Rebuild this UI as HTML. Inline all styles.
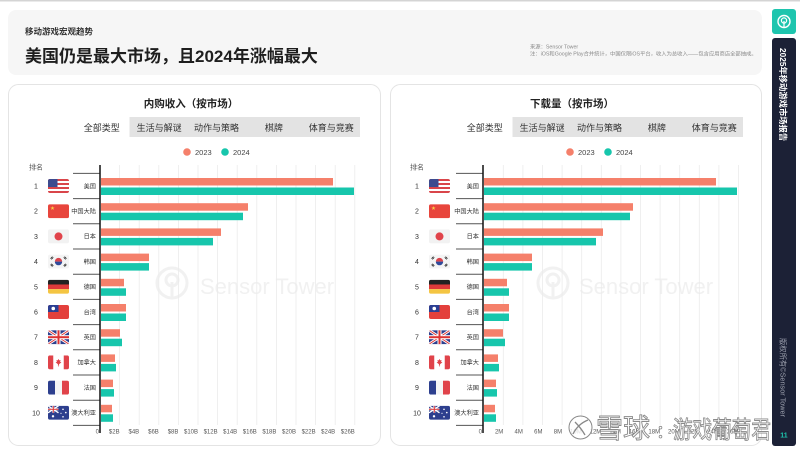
<!DOCTYPE html>
<html><head><meta charset="utf-8">
<style>
html,body{margin:0;padding:0;width:800px;height:454px;overflow:hidden;background:#fff}
svg{display:block}
svg text{font-family:"Liberation Sans","Noto Sans CJK SC",sans-serif}
</style></head>
<body>
<svg width="800" height="454" viewBox="0 0 800 454" xmlns="http://www.w3.org/2000/svg">
<defs>
<clipPath id="fc"><rect width="21" height="14" rx="2"/></clipPath>
<g id="fUS" clip-path="url(#fc)"><rect width="21" height="14" fill="#fff"/><rect y="0" width="21" height="2" fill="#d9454a"/><rect y="4" width="21" height="2" fill="#d9454a"/><rect y="8" width="21" height="2" fill="#d9454a"/><rect y="12" width="21" height="2" fill="#d9454a"/><rect width="9.5" height="8" fill="#3d4b8f"/></g>
<g id="fCN" clip-path="url(#fc)"><rect width="21" height="14" fill="#e8453c"/><polygon points="4.5,1.8 5,3.31 6.59,3.32 5.31,4.26 5.79,5.78 4.5,4.85 3.21,5.78 3.69,4.26 2.41,3.32 4,3.31" fill="#f7d046"/></g>
<g id="fJP" clip-path="url(#fc)"><rect width="21" height="14" fill="#f2f2f2"/><circle cx="10.5" cy="7" r="4" fill="#e0434a"/></g>
<g id="fKR" clip-path="url(#fc)"><rect width="21" height="14" fill="#f4f4f4"/><path d="M6.8,7 a3.7,3.7 0 0 1 7.4,0 z" fill="#d9434b"/><path d="M6.8,7 a3.7,3.7 0 0 0 7.4,0 z" fill="#2f4a9a"/><g stroke="#222" stroke-width="0.8"><line x1="2.5" y1="4" x2="4.5" y2="2"/><line x1="3.3" y1="4.8" x2="5.3" y2="2.8"/><line x1="16.5" y1="2" x2="18.5" y2="4"/><line x1="15.7" y1="2.8" x2="17.7" y2="4.8"/><line x1="2.5" y1="10" x2="4.5" y2="12"/><line x1="3.3" y1="9.2" x2="5.3" y2="11.2"/><line x1="16.5" y1="12" x2="18.5" y2="10"/><line x1="15.7" y1="11.2" x2="17.7" y2="9.2"/></g></g>
<g id="fDE" clip-path="url(#fc)"><rect width="21" height="4.7" fill="#222"/><rect y="4.67" width="21" height="4.7" fill="#dd3a3a"/><rect y="9.33" width="21" height="4.7" fill="#f4c542"/></g>
<g id="fTW" clip-path="url(#fc)"><rect width="21" height="14" fill="#e3403c"/><rect width="10.5" height="7" fill="#2b3f93"/><circle cx="5.25" cy="3.5" r="1.8" fill="#fff"/></g>
<g id="fUK" clip-path="url(#fc)"><rect width="21" height="14" fill="#2d3f8e"/><g stroke="#fff" stroke-width="2.8"><line x1="0" y1="0" x2="21" y2="14"/><line x1="0" y1="14" x2="21" y2="0"/></g><g stroke="#d33" stroke-width="0.9"><line x1="0" y1="0" x2="21" y2="14"/><line x1="0" y1="14" x2="21" y2="0"/></g><rect x="8.5" width="4" height="14" fill="#fff"/><rect y="5" width="21" height="4" fill="#fff"/><rect x="9.5" width="2" height="14" fill="#d33"/><rect y="6" width="21" height="2" fill="#d33"/></g>
<g id="fCA" clip-path="url(#fc)"><rect width="21" height="14" fill="#fff"/><rect width="5.25" height="14" fill="#e0434a"/><rect x="15.75" width="5.25" height="14" fill="#e0434a"/><polygon points="10.5,3.5 11.3,5 12.6,4.6 12.1,6.5 13.4,7 11,8.8 11.2,10 10.5,9.6 9.8,10 10,8.8 7.6,7 8.9,6.5 8.4,4.6 9.7,5" fill="#e0434a"/><rect x="10.2" y="9.5" width="0.6" height="1.6" fill="#e0434a"/></g>
<g id="fFR" clip-path="url(#fc)"><rect width="7" height="14" fill="#2d3f8e"/><rect x="7" width="7" height="14" fill="#f5f5f5"/><rect x="14" width="7" height="14" fill="#e0434a"/></g>
<g id="fAU" clip-path="url(#fc)"><rect width="21" height="14" fill="#2d3f8e"/><g stroke="#fff" stroke-width="1.4"><line x1="0" y1="0" x2="10.5" y2="7"/><line x1="0" y1="7" x2="10.5" y2="0"/></g><rect x="4.3" width="2" height="7" fill="#fff"/><rect y="2.5" width="10.5" height="2" fill="#fff"/><rect x="4.8" width="1" height="7" fill="#d33"/><rect y="3" width="10.5" height="1" fill="#d33"/><g fill="#fff"><circle cx="5" cy="10.5" r="1.2"/><circle cx="15" cy="3.5" r="0.8"/><circle cx="17.8" cy="6.8" r="0.8"/><circle cx="15" cy="11" r="0.8"/><circle cx="13" cy="7.5" r="0.6"/></g></g>
</defs>

<rect x="0" y="0" width="800" height="1.5" fill="#d4d4d4"/>

<rect x="8" y="10" width="754" height="65" rx="8" fill="#f6f6f6"/>
<text x="25" y="34.5" font-size="8.5" font-weight="bold" fill="#333">移动游戏宏观趋势</text>
<text x="25" y="62" font-size="17" font-weight="bold" fill="#1e1e1e">美国仍是最大市场，且2024年涨幅最大</text>
<text x="530" y="48.5" font-size="5.3" fill="#8a8a8a">来源：Sensor Tower</text>
<text x="530" y="55.5" font-size="5.3" fill="#8a8a8a">注：iOS和Google Play合并统计，中国仅限iOS平台，收入为总收入——包含应用商店全部抽成。</text>

<rect x="772" y="9" width="24" height="25" rx="3" fill="#1ec5ae"/>
<circle cx="784" cy="21.5" r="6" fill="none" stroke="#fff" stroke-width="1.4"/>
<circle cx="784" cy="20.5" r="2.6" fill="none" stroke="#fff" stroke-width="1.2"/>
<line x1="784" y1="21" x2="784" y2="27" stroke="#fff" stroke-width="1.2"/>
<rect x="772" y="38" width="24" height="408" rx="3" fill="#1c2136"/>
<text transform="translate(780.2,48) rotate(90)" font-size="8.3" font-weight="bold" fill="#fff">2025年移动游戏市场报告</text>
<text transform="translate(780.7,338) rotate(90)" font-size="7.3" fill="#9ca0ad">版权所有©Sensor Tower</text>
<text x="784" y="437.5" font-size="7" font-weight="bold" fill="#1ec5ae" text-anchor="middle">11</text>

<rect x="8.5" y="84.5" width="372" height="361" rx="10" fill="#fff" stroke="#e4e4e4"/>
<rect x="390.5" y="84.5" width="371" height="361" rx="10" fill="#fff" stroke="#e4e4e4"/>

<!-- LEFT PANEL -->
<text x="191" y="107" font-size="10.5" font-weight="bold" fill="#222" text-anchor="middle">内购收入（按市场）</text>
<rect x="73" y="117" width="287" height="20" fill="#e3e3e3"/>
<rect x="73" y="117" width="56.5" height="20" fill="#fff"/>
<g font-size="9" fill="#333" text-anchor="middle">
<text x="101.7" y="131">全部类型</text><text x="159.1" y="131">生活与解谜</text><text x="216.5" y="131">动作与策略</text><text x="273.9" y="131">棋牌</text><text x="331.3" y="131">体育与竞赛</text>
</g>
<circle cx="187" cy="152" r="3.8" fill="#f5806b"/><text x="195" y="155" font-size="7.5" fill="#444">2023</text>
<circle cx="225" cy="152" r="3.8" fill="#17c6ac"/><text x="233" y="155" font-size="7.5" fill="#444">2024</text>

<circle cx="172" cy="283" r="15" fill="none" stroke="#f1f1f1" stroke-width="3"/>
<circle cx="172" cy="280" r="6" fill="none" stroke="#f1f1f1" stroke-width="3"/>
<line x1="172" y1="282" x2="172" y2="297" stroke="#f1f1f1" stroke-width="3"/>
<text x="200" y="294" font-size="22" fill="#f1f1f1">Sensor Tower</text>

<g stroke="#ebebeb" stroke-width="0.8">
<line x1="119.6" y1="165" x2="119.6" y2="425"/><line x1="139.2" y1="165" x2="139.2" y2="425"/><line x1="158.8" y1="165" x2="158.8" y2="425"/><line x1="178.4" y1="165" x2="178.4" y2="425"/><line x1="198" y1="165" x2="198" y2="425"/><line x1="217.6" y1="165" x2="217.6" y2="425"/><line x1="237.2" y1="165" x2="237.2" y2="425"/><line x1="256.8" y1="165" x2="256.8" y2="425"/><line x1="276.4" y1="165" x2="276.4" y2="425"/><line x1="296" y1="165" x2="296" y2="425"/><line x1="315.6" y1="165" x2="315.6" y2="425"/><line x1="335.2" y1="165" x2="335.2" y2="425"/><line x1="354.8" y1="165" x2="354.8" y2="425"/>
</g>
<text x="29" y="169.5" font-size="7" fill="#555">排名</text>
<g stroke="#555" stroke-width="1">
<line x1="73" y1="173.4" x2="100" y2="173.4"/><line x1="73" y1="198.6" x2="100" y2="198.6"/><line x1="73" y1="223.8" x2="100" y2="223.8"/><line x1="73" y1="249" x2="100" y2="249"/><line x1="73" y1="274.2" x2="100" y2="274.2"/><line x1="73" y1="299.4" x2="100" y2="299.4"/><line x1="73" y1="324.6" x2="100" y2="324.6"/><line x1="73" y1="349.8" x2="100" y2="349.8"/><line x1="73" y1="375" x2="100" y2="375"/><line x1="73" y1="400.2" x2="100" y2="400.2"/><line x1="73" y1="425.4" x2="100" y2="425.4"/>
</g>
<g font-size="7" fill="#333" text-anchor="middle">
<text x="36" y="188.5">1</text><text x="36" y="213.7">2</text><text x="36" y="238.9">3</text><text x="36" y="264.1">4</text><text x="36" y="289.3">5</text><text x="36" y="314.5">6</text><text x="36" y="339.7">7</text><text x="36" y="364.9">8</text><text x="36" y="390.1">9</text><text x="36" y="415.3">10</text>
</g>
<use href="#fUS" transform="translate(48,179)"/><use href="#fCN" transform="translate(48,204.2)"/><use href="#fJP" transform="translate(48,229.4)"/><use href="#fKR" transform="translate(48,254.6)"/><use href="#fDE" transform="translate(48,279.8)"/><use href="#fTW" transform="translate(48,305)"/><use href="#fUK" transform="translate(48,330.2)"/><use href="#fCA" transform="translate(48,355.4)"/><use href="#fFR" transform="translate(48,380.6)"/><use href="#fAU" transform="translate(48,405.8)"/>
<g font-size="6.2" fill="#333" text-anchor="end">
<text x="96" y="188.3">美国</text><text x="96" y="213.5">中国大陆</text><text x="96" y="238.7">日本</text><text x="96" y="263.9">韩国</text><text x="96" y="289.1">德国</text><text x="96" y="314.3">台湾</text><text x="96" y="339.5">英国</text><text x="96" y="364.7">加拿大</text><text x="96" y="389.9">法国</text><text x="96" y="415.1">澳大利亚</text>
</g>
<g fill="#f5806b">
<rect x="101" y="178" width="232" height="7.5"/><rect x="101" y="203.2" width="147" height="7.5"/><rect x="101" y="228.4" width="120" height="7.5"/><rect x="101" y="253.6" width="48" height="7.5"/><rect x="101" y="278.8" width="23" height="7.5"/><rect x="101" y="304" width="25" height="7.5"/><rect x="101" y="329.2" width="19" height="7.5"/><rect x="101" y="354.4" width="14" height="7.5"/><rect x="101" y="379.6" width="12" height="7.5"/><rect x="101" y="404.8" width="11" height="7.5"/>
</g>
<g fill="#17c6ac">
<rect x="101" y="187.5" width="253" height="7.5"/><rect x="101" y="212.7" width="142" height="7.5"/><rect x="101" y="237.9" width="112" height="7.5"/><rect x="101" y="263.1" width="48" height="7.5"/><rect x="101" y="288.3" width="25" height="7.5"/><rect x="101" y="313.5" width="25" height="7.5"/><rect x="101" y="338.7" width="21" height="7.5"/><rect x="101" y="363.9" width="15" height="7.5"/><rect x="101" y="389.1" width="13" height="7.5"/><rect x="101" y="414.3" width="12" height="7.5"/>
</g>
<line x1="100" y1="165" x2="100" y2="433" stroke="#111" stroke-width="1.5"/>
<g font-size="6" fill="#555" text-anchor="end">
<text x="99" y="433.5">0</text><text x="119.6" y="433.5">$2B</text><text x="139.2" y="433.5">$4B</text><text x="158.8" y="433.5">$6B</text><text x="178.4" y="433.5">$8B</text><text x="198" y="433.5">$10B</text><text x="217.6" y="433.5">$12B</text><text x="237.2" y="433.5">$14B</text><text x="256.8" y="433.5">$16B</text><text x="276.4" y="433.5">$18B</text><text x="296" y="433.5">$20B</text><text x="315.6" y="433.5">$22B</text><text x="335.2" y="433.5">$24B</text><text x="354.8" y="433.5">$26B</text>
</g>

<!-- RIGHT PANEL -->
<text x="572" y="107" font-size="10.5" font-weight="bold" fill="#222" text-anchor="middle">下载量（按市场）</text>
<rect x="456" y="117" width="287" height="20" fill="#e3e3e3"/>
<rect x="456" y="117" width="56.5" height="20" fill="#fff"/>
<g font-size="9" fill="#333" text-anchor="middle">
<text x="484.7" y="131">全部类型</text><text x="542.1" y="131">生活与解谜</text><text x="599.5" y="131">动作与策略</text><text x="656.9" y="131">棋牌</text><text x="714.3" y="131">体育与竞赛</text>
</g>
<circle cx="570" cy="152" r="3.8" fill="#f5806b"/><text x="578" y="155" font-size="7.5" fill="#444">2023</text>
<circle cx="608" cy="152" r="3.8" fill="#17c6ac"/><text x="616" y="155" font-size="7.5" fill="#444">2024</text>

<circle cx="553" cy="283" r="15" fill="none" stroke="#f1f1f1" stroke-width="3"/>
<circle cx="553" cy="280" r="6" fill="none" stroke="#f1f1f1" stroke-width="3"/>
<line x1="553" y1="282" x2="553" y2="297" stroke="#f1f1f1" stroke-width="3"/>
<text x="579" y="294" font-size="22" fill="#f1f1f1">Sensor Tower</text>

<g stroke="#ebebeb" stroke-width="0.8">
<line x1="503.3" y1="165" x2="503.3" y2="425"/><line x1="522.9" y1="165" x2="522.9" y2="425"/><line x1="542.5" y1="165" x2="542.5" y2="425"/><line x1="562.1" y1="165" x2="562.1" y2="425"/><line x1="581.7" y1="165" x2="581.7" y2="425"/><line x1="601.3" y1="165" x2="601.3" y2="425"/><line x1="620.9" y1="165" x2="620.9" y2="425"/><line x1="640.5" y1="165" x2="640.5" y2="425"/><line x1="660.1" y1="165" x2="660.1" y2="425"/><line x1="679.7" y1="165" x2="679.7" y2="425"/><line x1="699.3" y1="165" x2="699.3" y2="425"/><line x1="718.9" y1="165" x2="718.9" y2="425"/><line x1="738.5" y1="165" x2="738.5" y2="425"/>
</g>
<text x="410" y="169.5" font-size="7" fill="#555">排名</text>
<g stroke="#555" stroke-width="1">
<line x1="456" y1="173.4" x2="483" y2="173.4"/><line x1="456" y1="198.6" x2="483" y2="198.6"/><line x1="456" y1="223.8" x2="483" y2="223.8"/><line x1="456" y1="249" x2="483" y2="249"/><line x1="456" y1="274.2" x2="483" y2="274.2"/><line x1="456" y1="299.4" x2="483" y2="299.4"/><line x1="456" y1="324.6" x2="483" y2="324.6"/><line x1="456" y1="349.8" x2="483" y2="349.8"/><line x1="456" y1="375" x2="483" y2="375"/><line x1="456" y1="400.2" x2="483" y2="400.2"/><line x1="456" y1="425.4" x2="483" y2="425.4"/>
</g>
<g font-size="7" fill="#333" text-anchor="middle">
<text x="417" y="188.5">1</text><text x="417" y="213.7">2</text><text x="417" y="238.9">3</text><text x="417" y="264.1">4</text><text x="417" y="289.3">5</text><text x="417" y="314.5">6</text><text x="417" y="339.7">7</text><text x="417" y="364.9">8</text><text x="417" y="390.1">9</text><text x="417" y="415.3">10</text>
</g>
<use href="#fUS" transform="translate(429,179)"/><use href="#fCN" transform="translate(429,204.2)"/><use href="#fJP" transform="translate(429,229.4)"/><use href="#fKR" transform="translate(429,254.6)"/><use href="#fDE" transform="translate(429,279.8)"/><use href="#fTW" transform="translate(429,305)"/><use href="#fUK" transform="translate(429,330.2)"/><use href="#fCA" transform="translate(429,355.4)"/><use href="#fFR" transform="translate(429,380.6)"/><use href="#fAU" transform="translate(429,405.8)"/>
<g font-size="6.2" fill="#333" text-anchor="end">
<text x="479" y="188.3">美国</text><text x="479" y="213.5">中国大陆</text><text x="479" y="238.7">日本</text><text x="479" y="263.9">韩国</text><text x="479" y="289.1">德国</text><text x="479" y="314.3">台湾</text><text x="479" y="339.5">英国</text><text x="479" y="364.7">加拿大</text><text x="479" y="389.9">法国</text><text x="479" y="415.1">澳大利亚</text>
</g>
<g fill="#f5806b">
<rect x="484" y="178" width="232" height="7.5"/><rect x="484" y="203.2" width="149" height="7.5"/><rect x="484" y="228.4" width="119" height="7.5"/><rect x="484" y="253.6" width="48" height="7.5"/><rect x="484" y="278.8" width="23" height="7.5"/><rect x="484" y="304" width="25" height="7.5"/><rect x="484" y="329.2" width="19" height="7.5"/><rect x="484" y="354.4" width="14" height="7.5"/><rect x="484" y="379.6" width="12" height="7.5"/><rect x="484" y="404.8" width="11" height="7.5"/>
</g>
<g fill="#17c6ac">
<rect x="484" y="187.5" width="253" height="7.5"/><rect x="484" y="212.7" width="146" height="7.5"/><rect x="484" y="237.9" width="112" height="7.5"/><rect x="484" y="263.1" width="48" height="7.5"/><rect x="484" y="288.3" width="25" height="7.5"/><rect x="484" y="313.5" width="25" height="7.5"/><rect x="484" y="338.7" width="21" height="7.5"/><rect x="484" y="363.9" width="15" height="7.5"/><rect x="484" y="389.1" width="13" height="7.5"/><rect x="484" y="414.3" width="12" height="7.5"/>
</g>
<line x1="483" y1="165" x2="483" y2="433" stroke="#111" stroke-width="1.5"/>
<g font-size="6" fill="#555" text-anchor="end">
<text x="482" y="433.5">0</text><text x="503.3" y="433.5">2M</text><text x="522.9" y="433.5">4M</text><text x="542.5" y="433.5">6M</text><text x="562.1" y="433.5">8M</text><text x="581.7" y="433.5">10M</text><text x="601.3" y="433.5">12M</text><text x="620.9" y="433.5">14M</text><text x="640.5" y="433.5">16M</text><text x="660.1" y="433.5">18M</text><text x="679.7" y="433.5">20M</text><text x="699.3" y="433.5">22M</text><text x="718.9" y="433.5">24M</text><text x="738.5" y="433.5">26M</text>
</g>

<g>
<circle cx="580.5" cy="427.5" r="11.5" fill="#fff" fill-opacity="0.8" stroke="#888" stroke-width="1"/>
<path d="M573,434 Q578,424 588,420 M575,422 Q581,428 585,435" fill="none" stroke="#888" stroke-width="1.3"/>
<text x="596" y="438" font-size="27" fill="#fff" stroke="#8a8a8a" stroke-width="0.9">雪球</text>
<text x="656" y="438" font-size="18" fill="#fff" stroke="#8a8a8a" stroke-width="0.8">：</text>
<text x="673" y="438" font-size="24" fill="#fff" stroke="#8a8a8a" stroke-width="0.9" textLength="98" lengthAdjust="spacingAndGlyphs">游戏葡萄君</text>
</g>
</svg>
</body></html>
